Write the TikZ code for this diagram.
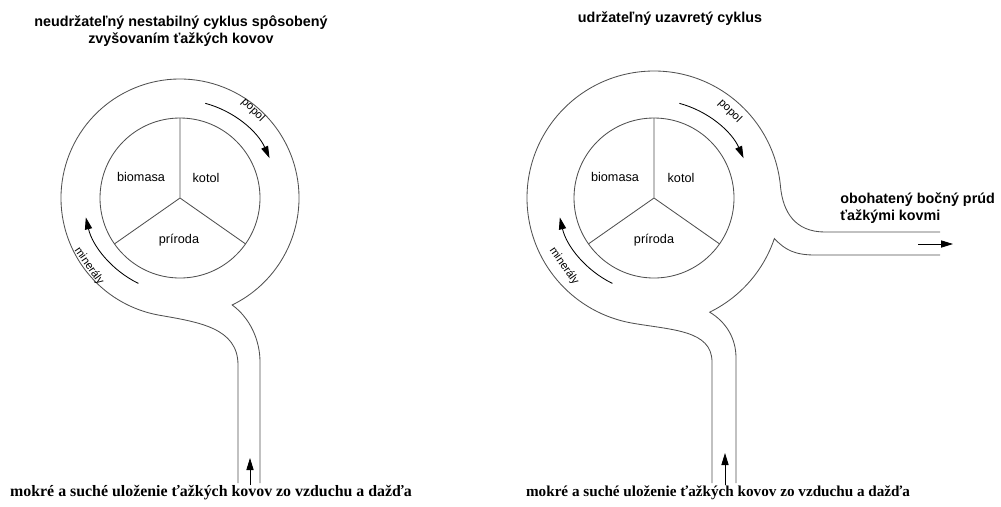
\documentclass[tikz,border=0pt]{standalone}
\usepackage{fontspec}
\setmainfont{Liberation Sans}
\newfontfamily\serifbold{Liberation Serif}
\usetikzlibrary{arrows.meta, positioning}
\definecolor{wallgray}{HTML}{505050}

\begin{document}
\begin{tikzpicture}[
    x=0.25mm, y=0.25mm,
    wall/.style={draw=wallgray, line width=0.6pt},
    flow/.style={-{Triangle[length=3mm, width=1.8mm]}, line width=0.6pt, black},
    heading/.style={font=\fontsize{10.2}{12.5}\selectfont\bfseries, align=center, inner sep=0pt},
    part/.style={font=\fontsize{9}{11}\selectfont, inner sep=0pt},
    along/.style={font=\fontsize{8}{10}\selectfont, inner sep=0pt},
    source/.style={inner sep=0pt}
]
\useasboundingbox (0,0) rectangle (1001,-506);
\coordinate (cl) at (180,-198);
\coordinate (cr) at (654,-198);

% left cycle: ring with one inlet
\draw[wall] (260,-483) -- (260,-362) .. controls (260,-340) and (250,-318) .. ([shift={(-64:119)}]cl)
    arc[start angle=-64, end angle=260, radius=119]
    .. controls +(40,-7) and (238,-328) .. (238,-365) -- (238,-483);
\draw[wall] (cl) circle[radius=80];
\draw[wall] (cl) -- ++(90:80) (cl) -- ++(215:80) (cl) -- ++(325:80);
\draw[flow] ([shift={(75:98)}]cl) arc[start angle=75, end angle=24, radius=98];
\draw[flow] ([shift={(244:95)}]cl) arc[start angle=244, end angle=193, radius=98];
\draw[flow] (250,-485) -- (250,-458);

% right cycle: ring with inlet and side outlet
\draw[wall] (736,-483) -- (736,-358) .. controls (736,-338) and (726,-322) .. ([shift={(-64:127)}]cr)
    arc[start angle=-64, end angle=-18.6, radius=127]
    .. controls (785,-250) and (795,-255) .. (815,-255) -- (940,-255);
\draw[wall] (940,-232) -- (825,-232) .. controls (795,-232) and (783,-212) .. ([shift={(5:127)}]cr)
    arc[start angle=5, end angle=260, radius=127]
    .. controls +(40,-7) and (712,-330) .. (712,-362) -- (712,-483);
\draw[wall] (cr) circle[radius=80];
\draw[wall] (cr) -- ++(90:80) (cr) -- ++(215:80) (cr) -- ++(325:80);
\draw[flow] ([shift={(75:98)}]cr) arc[start angle=75, end angle=24, radius=98];
\draw[flow] ([shift={(244:95)}]cr) arc[start angle=244, end angle=193, radius=98];
\draw[flow] (725,-485) -- (725,-453);
\draw[flow] (918,-244) -- (953,-244);

% labels
\node[heading] (tl) at (181,-31) {neudržateľný nestabilný cyklus spôsobený\\zvyšovaním ťažkých kovov};
\node[heading] (tr) at (670,-19) {udržateľný uzavretý cyklus};
\node[heading, align=left, anchor=west] (side) at (840,-208) {obohatený bočný prúd\\ťažkými kovmi};

\node[part] (biol) at (141,-177) {biomasa};
\node[part] (kotl) at (206,-178) {kotol};
\node[part] (pril) at (179,-240) {príroda};
\node[part] (bior) at (615,-177) {biomasa};
\node[part] (kotr) at (681,-178) {kotol};
\node[part] (prir) at (654,-240) {príroda};

\node[along, rotate=-45] (popl) at (253,-110) {popol};
\node[along, rotate=-55] (minl) at (89,-266) {minerály};
\node[along, rotate=-45] (popr) at (730,-111) {popol};
\node[along, rotate=-55] (minr) at (564,-266) {minerály};

\node[source, font=\serifbold\fontsize{11.3}{13}\selectfont\bfseries] (srcl) at (211,-493) {mokré a suché uloženie ťažkých kovov zo vzduchu a dažďa};
\node[source, font=\serifbold\fontsize{10.8}{13}\selectfont\bfseries] (srcr) at (718,-493) {mokré a suché uloženie ťažkých kovov zo vzduchu a dažďa};
\end{tikzpicture}
\end{document}
